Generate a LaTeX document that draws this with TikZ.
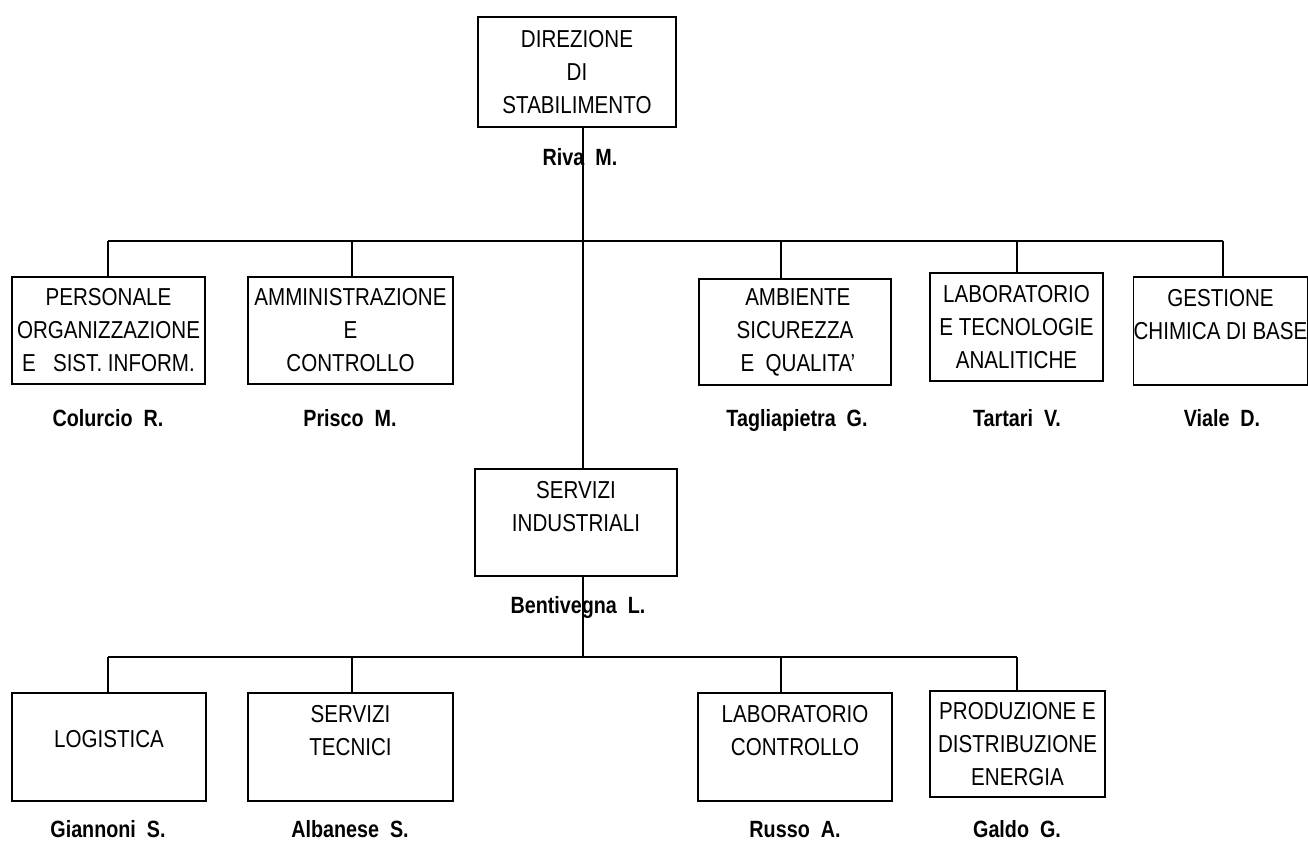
\documentclass[tikz,border=0pt]{standalone}
\usepackage{fontspec}
\setmainfont{Liberation Sans}[FakeStretch=0.84]
\begin{document}
\begin{tikzpicture}[x=1pt,y=-1pt,
  box/.style={draw, line width=1.6pt, inner sep=0pt, align=center,
    font=\fontsize{24.5}{33}\selectfont},
  who/.style={font=\fontsize{23.5}{26}\selectfont\bfseries, inner sep=0pt, anchor=base},
  conn/.style={line width=1.2pt}]
\useasboundingbox (0,0) rectangle (1308,842);
% top
\node[box, minimum width=198, minimum height=110] (dir) at (577,72) {DIREZIONE\\DI\\STABILIMENTO};
\node[who] (riva) at (580,165.5) {Riva\ \ M.};
% level 1 junctions
\coordinate (j1) at (583,241);
\coordinate (a1) at (108,241);
\coordinate (a2) at (352,241);
\coordinate (a3) at (781,241);
\coordinate (a4) at (1017,241);
\coordinate (a5) at (1223,241);
% level 1 boxes
\node[box, minimum width=193, minimum height=107] (pers) at (108.5,330.5) {PERSONALE\\ORGANIZZAZIONE\\E\ \ \ SIST. INFORM.};
\node[box, minimum width=205, minimum height=107] (amm) at (350.5,330.5) {AMMINISTRAZIONE\\E\\CONTROLLO};
\node[box, minimum width=192, minimum height=106] (amb) at (795,332) {\ AMBIENTE\\SICUREZZA\\\ E\ \ QUALITA'};
\node[box, minimum width=173, minimum height=108] (lab) at (1016.5,327) {LABORATORIO\\E TECNOLOGIE\\ANALITICHE};
\node[box, minimum width=171, minimum height=108] (gest) at (1220.5,331) {GESTIONE\\CHIMICA DI BASE\\~};
\node[who] (n1) at (108,426.5) {Colurcio\ \ R.};
\node[who] (n2) at (350,426.5) {Prisco\ \ M.};
\node[who] (n3) at (797,426.5) {Tagliapietra\ \ G.};
\node[who] (n4) at (1017,426.5) {Tartari\ \ V.};
\node[who] (n5) at (1222,426.5) {Viale\ \ D.};
% servizi industriali
\node[box, minimum width=202, minimum height=107] (si) at (576,522.5) {SERVIZI\\INDUSTRIALI\\~};
\node[who] (bent) at (578,613.5) {Bentivegna\ \ L.};
% level 2 junctions
\coordinate (j2) at (583,657);
\coordinate (b1) at (108,657);
\coordinate (b2) at (352,657);
\coordinate (b3) at (781,657);
\coordinate (b4) at (1017,657);
% level 2 boxes
\node[box, minimum width=194, minimum height=108] (log) at (109,747) {~\\LOGISTICA\\~};
\node[box, minimum width=205, minimum height=108] (st) at (350.5,747) {SERVIZI\\TECNICI\\~};
\node[box, minimum width=194, minimum height=108] (labc) at (795,747) {LABORATORIO\\CONTROLLO\\~};
\node[box, minimum width=175, minimum height=106] (prod) at (1017.5,744) {PRODUZIONE E\\DISTRIBUZIONE\\ENERGIA};
\node[who] (m1) at (108,837) {Giannoni\ \ S.};
\node[who] (m2) at (350,837) {Albanese\ \ S.};
\node[who] (m3) at (795,837) {Russo\ \ A.};
\node[who] (m4) at (1017,837) {Galdo\ \ G.};
% connectors
\draw[conn] (dir.south -| j1) -- (si.north -| j1);
\draw[conn] (a1) -- (a5);
\draw[conn] (a1) -- (a1 |- pers.north);
\draw[conn] (a2) -- (a2 |- amm.north);
\draw[conn] (a3) -- (a3 |- amb.north);
\draw[conn] (a4) -- (a4 |- lab.north);
\draw[conn] (a5) -- (a5 |- gest.north);
\draw[conn] (si.south -| j2) -- (j2);
\draw[conn] (b1) -- (b4);
\draw[conn] (b1) -- (b1 |- log.north);
\draw[conn] (b2) -- (b2 |- st.north);
\draw[conn] (b3) -- (b3 |- labc.north);
\draw[conn] (b4) -- (b4 |- prod.north);
\end{tikzpicture}
\end{document}
